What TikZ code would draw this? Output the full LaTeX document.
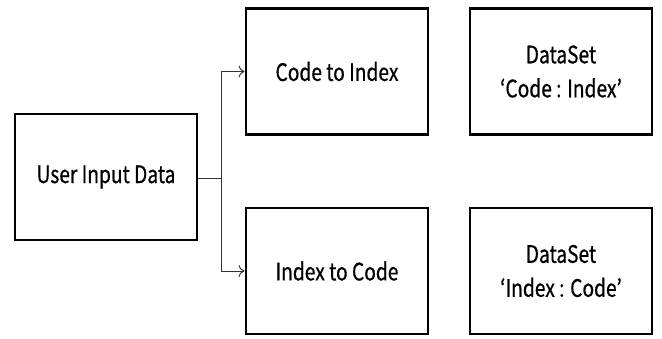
\documentclass[tikz,border=0pt]{standalone}
\usepackage{fontspec}
\setmainfont{Noto Sans CJK KR}[FakeStretch=0.8,FakeBold=0.6]
\usetikzlibrary{arrows.meta}
\begin{document}
\begin{tikzpicture}[x=1pt,y=-1pt,
  box/.style={draw=black,line width=2.8pt,minimum width=182pt,minimum height=126pt,inner sep=0pt,align=center,font=\fontsize{24}{34}\selectfont},
  conn/.style={line width=1pt,draw=black!80},
  arr/.style={conn,-{To[length=6pt,width=12pt]}}]
\useasboundingbox (0,0) rectangle (662,338);
\node[box] (uid) at (106,177) {User Input Data};
\node[box] (c2i) at (337,71.5) {Code to Index};
\node[box] (i2c) at (337,271) {Index to Code};
\node[box] (ds1) at (561,71.5) {DataSet\\‘Code : Index’};
\node[box] (ds2) at (561,271) {DataSet\\‘Index : Code’};
\coordinate (split) at (221,178);
\draw[conn] (uid.east |- split) -- (split);
\draw[arr] (split) |- (c2i.west);
\draw[arr] (split) |- (i2c.west);
\end{tikzpicture}
\end{document}
